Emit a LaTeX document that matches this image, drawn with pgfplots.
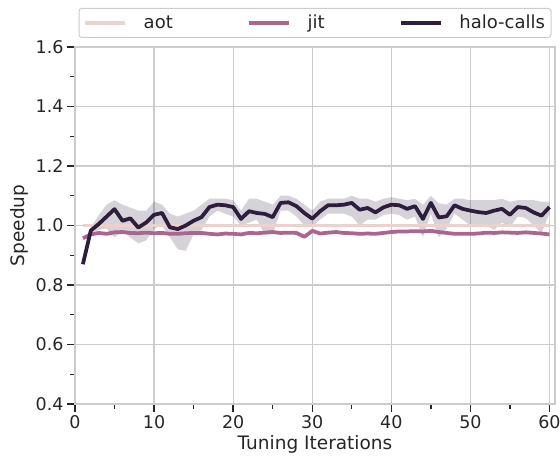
\documentclass[border=0pt]{standalone}
\usepackage{fontspec}
\setmainfont{DejaVu Sans}
\usepackage{pgfplots}
\usepackage{pgfplotstable}
\pgfplotsset{compat=1.18}
\usepgfplotslibrary{fillbetween}

\definecolor{aotc}{HTML}{EDD1CB}
\definecolor{jitc}{HTML}{AB6590}
\definecolor{haloc}{HTML}{2D1E3E}
\definecolor{txt}{HTML}{262626}

% halo-calls: mean and band per tuning iteration
\pgfplotstableread{
i mean lo hi
1 0.870 0.865 0.875
2 0.983 0.975 0.992
3 1.005 0.985 1.035
4 1.030 0.990 1.070
5 1.055 0.960 1.085
6 1.016 0.980 1.070
7 1.024 0.960 1.060
8 0.993 0.940 1.050
9 1.010 0.950 1.050
10 1.036 0.990 1.080
11 1.042 1.000 1.070
12 0.994 0.960 1.040
13 0.988 0.920 1.030
14 1.000 0.915 1.040
15 1.016 0.970 1.050
16 1.028 0.985 1.070
17 1.062 1.030 1.090
18 1.070 1.050 1.090
19 1.068 1.040 1.090
20 1.062 1.030 1.085
21 1.022 1.000 1.050
22 1.048 1.010 1.090
23 1.042 1.020 1.090
24 1.039 0.970 1.080
25 1.028 0.970 1.070
26 1.076 1.050 1.100
27 1.078 1.050 1.100
28 1.065 1.030 1.090
29 1.042 1.000 1.070
30 1.023 0.995 1.050
31 1.048 1.020 1.080
32 1.068 1.040 1.090
33 1.068 1.040 1.090
34 1.070 1.040 1.090
35 1.076 1.030 1.100
36 1.053 1.000 1.090
37 1.059 1.020 1.090
38 1.044 1.020 1.080
39 1.061 1.035 1.090
40 1.070 1.040 1.095
41 1.068 1.035 1.090
42 1.056 1.020 1.085
43 1.065 1.030 1.090
44 1.022 0.960 1.070
45 1.076 1.040 1.100
46 1.027 0.960 1.075
47 1.031 0.990 1.070
48 1.068 1.040 1.090
49 1.056 1.020 1.090
50 1.050 1.000 1.085
51 1.045 1.000 1.085
52 1.042 1.000 1.085
53 1.050 0.985 1.085
54 1.056 1.010 1.090
55 1.036 0.995 1.080
56 1.062 1.030 1.085
57 1.059 1.025 1.085
58 1.044 1.000 1.085
59 1.033 0.975 1.080
60 1.062 1.040 1.080
}\halo

% jit mean
\pgfplotstableread{
i mean
1 0.957
2 0.970
3 0.975
4 0.972
5 0.977
6 0.978
7 0.975
8 0.974
9 0.976
10 0.974
11 0.975
12 0.972
13 0.972
14 0.974
15 0.975
16 0.975
17 0.972
18 0.970
19 0.973
20 0.972
21 0.970
22 0.975
23 0.974
24 0.976
25 0.978
26 0.975
27 0.976
28 0.975
29 0.962
30 0.982
31 0.973
32 0.976
33 0.978
34 0.975
35 0.974
36 0.972
37 0.973
38 0.972
39 0.975
40 0.978
41 0.980
42 0.980
43 0.981
44 0.980
45 0.982
46 0.978
47 0.975
48 0.972
49 0.972
50 0.972
51 0.973
52 0.976
53 0.975
54 0.977
55 0.976
56 0.975
57 0.977
58 0.975
59 0.973
60 0.970
}\jit

\begin{document}
\begin{tikzpicture}
\begin{axis}[
    scale only axis,
    width=480pt, height=357pt,
    xmin=0, xmax=60.7,
    ymin=0.4, ymax=1.6,
    xtick={0,10,20,30,40,50,60},
    ytick={0.4,0.6,0.8,1.0,1.2,1.4,1.6},
    minor x tick num=1, minor y tick num=1,
    yticklabel style={/pgf/number format/.cd, fixed, fixed zerofill, precision=1},
    /pgf/number format/assume math mode=true,
    ticklabel style={font=\fontsize{17.5}{21}\selectfont, text=txt},
    label style={font=\fontsize{18.5}{22}\selectfont, text=txt},
    xlabel={Tuning Iterations},
    ylabel={Speedup},
    grid=major,
    major grid style={draw=black!20, line width=1.2pt},
    axis line style={draw=black!20, line width=1.6pt},
    tick align=outside,
    xtick pos=bottom, ytick pos=left,
    major tick length=8pt, minor tick length=4.5pt,
    every tick/.style={draw=txt, line width=1.4pt},
    legend columns=3,
    legend image code/.code={\draw[#1] (0pt,0pt) -- (40pt,0pt);},
    legend style={at={(0.5,1)}, anchor=south, yshift=9pt,
        draw=black!20, line width=1pt, rounded corners=3pt,
        font=\fontsize{18}{22}\selectfont, text=txt,
        inner xsep=4pt, inner ysep=5pt,
        /tikz/every odd column/.append style={column sep=15pt},
        /tikz/every even column/.append style={column sep=72pt}},
]
\addplot[color=aotc, line width=3.75pt] coordinates {(1,1.0) (60,1.0)};
\addlegendentry{aot}
\addplot[color=jitc, line width=3.75pt, line join=round] table[x=i, y=mean] {\jit};
\addlegendentry{jit}
\addplot[name path=hiH, draw=none, forget plot] table[x=i, y=hi] {\halo};
\addplot[name path=loH, draw=none, forget plot] table[x=i, y=lo] {\halo};
\addplot[fill=haloc, fill opacity=0.2, draw=none, forget plot] fill between[of=hiH and loH];
\addplot[color=haloc, line width=3.75pt, line join=round] table[x=i, y=mean] {\halo};
\addlegendentry{halo-calls}
\end{axis}
\pgfresetboundingbox
\path[use as bounding box] ([xshift=-75pt,yshift=-57pt]current axis.south west)
    rectangle ([xshift=5pt,yshift=47pt]current axis.north east);
\end{tikzpicture}
\end{document}
